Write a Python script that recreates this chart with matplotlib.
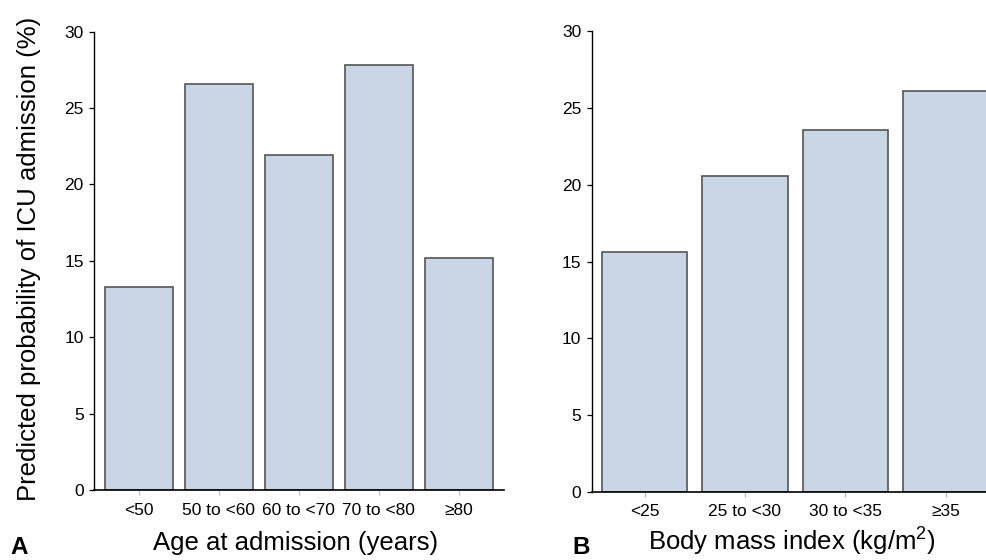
import matplotlib
matplotlib.use("Agg")
import matplotlib.pyplot as plt
import numpy as np

# -------------------------------
# Data (predicted probability of ICU admission, %)
# -------------------------------
age_labels = ["<50", "50 to <60", "60 to <70", "70 to <80", "\u226580"]
age_values = [13.3, 26.6, 21.9, 27.8, 15.2]

bmi_labels = ["<25", "25 to <30", "30 to <35", "\u226535"]
bmi_values = [15.6, 20.6, 23.6, 26.1]

y_ticks = [0, 5, 10, 15, 20, 25, 30]

# -------------------------------
# Styling
# -------------------------------
plt.rcParams["font.family"] = ["Liberation Sans", "DejaVu Sans"]
plt.rcParams["mathtext.fontset"] = "custom"
plt.rcParams["mathtext.rm"] = "Liberation Sans"
plt.rcParams["mathtext.it"] = "Liberation Sans:italic"

bar_color = "#cad5e6"
edge_color = "#555555"
W, H = 986, 560

fig = plt.figure(figsize=(W / 100, H / 100), dpi=100)


def px_axes(left, right, top, bottom):
    return fig.add_axes([left / W, 1 - bottom / H, (right - left) / W, (bottom - top) / H])


def style_axes(ax, labels, values, xlim):
    x = np.arange(len(values))
    ax.bar(x, values, width=0.85, color=bar_color, edgecolor=edge_color, linewidth=1.2, zorder=2)
    ax.set_xlim(*xlim)
    ax.set_ylim(0, 30)
    ax.set_yticks(y_ticks)
    ax.set_yticklabels([str(t) for t in y_ticks], fontsize=12.5)
    ax.set_xticks(x)
    ax.set_xticklabels(labels, fontsize=12.5)
    ax.spines["top"].set_visible(False)
    ax.spines["right"].set_visible(False)
    ax.spines["left"].set_linewidth(1.0)
    ax.spines["bottom"].set_linewidth(1.2)
    ax.tick_params(axis="y", length=3.4, width=0.9, pad=4.0)
    ax.tick_params(axis="x", length=3.6, width=0.9, color="#bbbbbb", pad=5.5)


# -------------------------------
# Panel A: age
# -------------------------------
ax1 = px_axes(94, 504, 31.7, 490)
style_axes(ax1, age_labels, age_values, (-0.558, 4.562))

# -------------------------------
# Panel B: BMI (cropped at right edge like the original)
# -------------------------------
ax2 = px_axes(591.7, 986, 31.4, 491.7)
style_axes(ax2, bmi_labels, bmi_values, (-0.526, 3.401))

# axis titles
fig.text(295.5 / W, 1 - 550 / H, "Age at admission (years)",
         ha="center", va="baseline", fontsize=18.5)
fig.text(791.5 / W, 1 - 551 / H, "Body mass index (kg/m$^2$)",
         ha="center", va="baseline", fontsize=18.5)
fig.text(29 / W, 1 - 258.5 / H, "Predicted probability of ICU admission (%)",
         rotation=90, ha="center", va="center", fontsize=18.5)

# panel letters (kept just inside the bottom edge)
fig.text(10 / W, 1 - 559 / H, "A", fontsize=17.5, fontweight="bold", ha="left", va="bottom")
fig.text(572 / W, 1 - 559 / H, "B", fontsize=17.5, fontweight="bold", ha="left", va="bottom")

fig.savefig("out.png", dpi=100)
plt.close(fig)
